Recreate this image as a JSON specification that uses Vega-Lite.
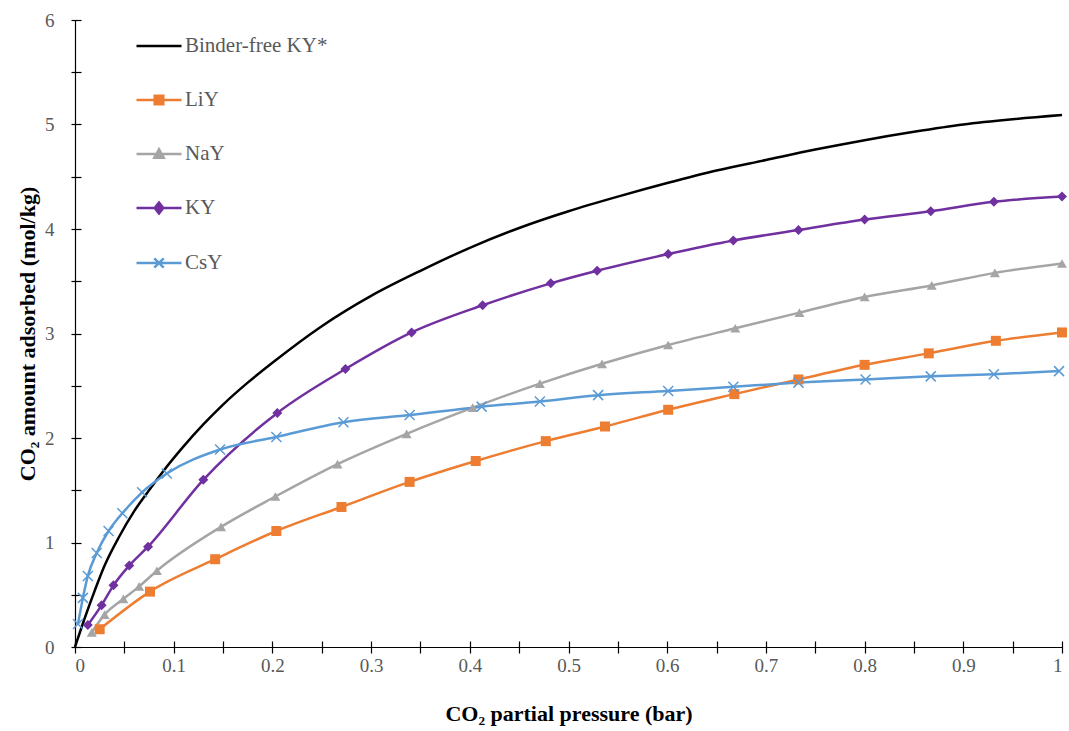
{
  "$schema": "https://vega.github.io/schema/vega-lite/v6.json",
  "width": 987,
  "height": 627,
  "autosize": "none",
  "padding": {"left": 75, "top": 20, "right": 7, "bottom": 84},
  "background": "white",
  "config": {"view": {"stroke": null}, "font": "Liberation Serif"},
  "data": {"values": [
    {"series": "Binder-free KY*", "p": 0, "q": 0},
    {"series": "Binder-free KY*", "p": 0.01, "q": 0.28},
    {"series": "Binder-free KY*", "p": 0.02, "q": 0.54},
    {"series": "Binder-free KY*", "p": 0.03, "q": 0.78},
    {"series": "Binder-free KY*", "p": 0.045, "q": 1.06},
    {"series": "Binder-free KY*", "p": 0.06, "q": 1.3},
    {"series": "Binder-free KY*", "p": 0.075, "q": 1.5},
    {"series": "Binder-free KY*", "p": 0.09, "q": 1.69},
    {"series": "Binder-free KY*", "p": 0.11, "q": 1.92},
    {"series": "Binder-free KY*", "p": 0.13, "q": 2.13},
    {"series": "Binder-free KY*", "p": 0.15, "q": 2.32},
    {"series": "Binder-free KY*", "p": 0.175, "q": 2.53},
    {"series": "Binder-free KY*", "p": 0.2, "q": 2.72},
    {"series": "Binder-free KY*", "p": 0.25, "q": 3.07},
    {"series": "Binder-free KY*", "p": 0.3, "q": 3.36},
    {"series": "Binder-free KY*", "p": 0.35, "q": 3.6},
    {"series": "Binder-free KY*", "p": 0.4, "q": 3.82},
    {"series": "Binder-free KY*", "p": 0.45, "q": 4.01},
    {"series": "Binder-free KY*", "p": 0.5, "q": 4.17},
    {"series": "Binder-free KY*", "p": 0.55, "q": 4.31},
    {"series": "Binder-free KY*", "p": 0.6, "q": 4.44},
    {"series": "Binder-free KY*", "p": 0.65, "q": 4.56},
    {"series": "Binder-free KY*", "p": 0.7, "q": 4.66},
    {"series": "Binder-free KY*", "p": 0.75, "q": 4.76},
    {"series": "Binder-free KY*", "p": 0.8, "q": 4.85},
    {"series": "Binder-free KY*", "p": 0.85, "q": 4.93},
    {"series": "Binder-free KY*", "p": 0.9, "q": 5.0},
    {"series": "Binder-free KY*", "p": 0.95, "q": 5.05},
    {"series": "Binder-free KY*", "p": 1.0, "q": 5.09},

    {"series": "LiY", "p": 0.025, "q": 0.17},
    {"series": "LiY", "p": 0.076, "q": 0.53},
    {"series": "LiY", "p": 0.142, "q": 0.84},
    {"series": "LiY", "p": 0.204, "q": 1.11},
    {"series": "LiY", "p": 0.27, "q": 1.34},
    {"series": "LiY", "p": 0.339, "q": 1.58},
    {"series": "LiY", "p": 0.406, "q": 1.78},
    {"series": "LiY", "p": 0.477, "q": 1.97},
    {"series": "LiY", "p": 0.537, "q": 2.11},
    {"series": "LiY", "p": 0.601, "q": 2.27},
    {"series": "LiY", "p": 0.668, "q": 2.42},
    {"series": "LiY", "p": 0.733, "q": 2.56},
    {"series": "LiY", "p": 0.8, "q": 2.7},
    {"series": "LiY", "p": 0.865, "q": 2.81},
    {"series": "LiY", "p": 0.933, "q": 2.93},
    {"series": "LiY", "p": 1.0, "q": 3.01},

    {"series": "NaY", "p": 0.017, "q": 0.14},
    {"series": "NaY", "p": 0.03, "q": 0.31},
    {"series": "NaY", "p": 0.049, "q": 0.46},
    {"series": "NaY", "p": 0.065, "q": 0.58},
    {"series": "NaY", "p": 0.083, "q": 0.73},
    {"series": "NaY", "p": 0.148, "q": 1.15},
    {"series": "NaY", "p": 0.203, "q": 1.44},
    {"series": "NaY", "p": 0.266, "q": 1.75},
    {"series": "NaY", "p": 0.336, "q": 2.04},
    {"series": "NaY", "p": 0.403, "q": 2.29},
    {"series": "NaY", "p": 0.471, "q": 2.52},
    {"series": "NaY", "p": 0.534, "q": 2.71},
    {"series": "NaY", "p": 0.601, "q": 2.89},
    {"series": "NaY", "p": 0.669, "q": 3.05},
    {"series": "NaY", "p": 0.734, "q": 3.2},
    {"series": "NaY", "p": 0.8, "q": 3.35},
    {"series": "NaY", "p": 0.868, "q": 3.46},
    {"series": "NaY", "p": 0.932, "q": 3.58},
    {"series": "NaY", "p": 1.0, "q": 3.67},

    {"series": "KY", "p": 0.013, "q": 0.21},
    {"series": "KY", "p": 0.027, "q": 0.4},
    {"series": "KY", "p": 0.039, "q": 0.59},
    {"series": "KY", "p": 0.055, "q": 0.78},
    {"series": "KY", "p": 0.074, "q": 0.96},
    {"series": "KY", "p": 0.13, "q": 1.6},
    {"series": "KY", "p": 0.205, "q": 2.24},
    {"series": "KY", "p": 0.274, "q": 2.66},
    {"series": "KY", "p": 0.341, "q": 3.01},
    {"series": "KY", "p": 0.413, "q": 3.27},
    {"series": "KY", "p": 0.482, "q": 3.48},
    {"series": "KY", "p": 0.529, "q": 3.6},
    {"series": "KY", "p": 0.601, "q": 3.76},
    {"series": "KY", "p": 0.667, "q": 3.89},
    {"series": "KY", "p": 0.733, "q": 3.99},
    {"series": "KY", "p": 0.8, "q": 4.09},
    {"series": "KY", "p": 0.867, "q": 4.17},
    {"series": "KY", "p": 0.931, "q": 4.26},
    {"series": "KY", "p": 1.0, "q": 4.31},

    {"series": "CsY", "p": 0.003, "q": 0.22},
    {"series": "CsY", "p": 0.008, "q": 0.47},
    {"series": "CsY", "p": 0.013, "q": 0.68},
    {"series": "CsY", "p": 0.022, "q": 0.9},
    {"series": "CsY", "p": 0.034, "q": 1.11},
    {"series": "CsY", "p": 0.048, "q": 1.28},
    {"series": "CsY", "p": 0.068, "q": 1.48},
    {"series": "CsY", "p": 0.093, "q": 1.66},
    {"series": "CsY", "p": 0.147, "q": 1.89},
    {"series": "CsY", "p": 0.204, "q": 2.01},
    {"series": "CsY", "p": 0.272, "q": 2.15},
    {"series": "CsY", "p": 0.339, "q": 2.22},
    {"series": "CsY", "p": 0.412, "q": 2.3},
    {"series": "CsY", "p": 0.471, "q": 2.35},
    {"series": "CsY", "p": 0.53, "q": 2.41},
    {"series": "CsY", "p": 0.601, "q": 2.45},
    {"series": "CsY", "p": 0.667, "q": 2.49},
    {"series": "CsY", "p": 0.733, "q": 2.53},
    {"series": "CsY", "p": 0.801, "q": 2.56},
    {"series": "CsY", "p": 0.867, "q": 2.59},
    {"series": "CsY", "p": 0.931, "q": 2.61},
    {"series": "CsY", "p": 0.997, "q": 2.64}
  ]},
  "layer": [
    {
      "transform": [{"filter": "datum.series === 'Binder-free KY*'"}],
      "mark": {"type": "line", "strokeWidth": 2.5, "interpolate": "monotone"},
      "encoding": {
        "x": {"field": "p", "type": "quantitative",
          "scale": {"domain": [0, 1], "nice": false, "zero": false},
          "axis": {"orient": "bottom", "title": "CO₂ partial pressure (bar)",
            "values": [0, 0.1, 0.2, 0.3, 0.4, 0.5, 0.6, 0.7, 0.8, 0.9, 1],
            "format": "~g", "ticks": false, "grid": false,
            "domainColor": "#000000", "domainWidth": 1.2,
            "labelFont": "Liberation Serif", "labelFontSize": 19, "labelColor": "#595959", "labelPadding": 9,
            "titleFont": "Liberation Serif", "titleFontSize": 22, "titleFontWeight": "bold", "titleColor": "#000000", "titlePadding": 28}},
        "y": {"field": "q", "type": "quantitative",
          "scale": {"domain": [0, 6], "nice": false},
          "axis": {"orient": "left", "title": "CO₂ amount adsorbed  (mol/kg)",
            "values": [0, 1, 2, 3, 4, 5, 6],
            "format": "~g", "ticks": false, "grid": false,
            "domainColor": "#000000", "domainWidth": 1.2,
            "labelFont": "Liberation Serif", "labelFontSize": 19, "labelColor": "#595959", "labelPadding": 21,
            "titleFont": "Liberation Serif", "titleFontSize": 22, "titleFontWeight": "bold", "titleColor": "#000000", "titlePadding": 5}},
        "color": {"field": "series", "type": "nominal",
          "scale": {"domain": ["Binder-free KY*", "LiY", "NaY", "KY", "CsY"],
                    "range": ["#000000", "#ED7D31", "#A5A5A5", "#7030A0", "#5B9BD5"]},
          "legend": {"orient": "none", "legendX": 60, "legendY": 2, "title": null,
            "symbolSize": 2025, "symbolStrokeWidth": 2.5, "rowPadding": 20,
            "labelFont": "Liberation Serif", "labelFontSize": 21, "labelColor": "#595959", "labelOffset": 2,
            "encode": {"symbols": {"update": {
              "shape": {"signal": "datum.value === 'LiY' ? 'M-1,0L1,0M-0.19,-0.19L0.19,-0.19L0.19,0.19L-0.19,0.19Z' : datum.value === 'NaY' ? 'M-1,0L1,0M-0.21,0.17L0,-0.21L0.21,0.17Z' : datum.value === 'KY' ? 'M-1,0L1,0M0,-0.24L0.19,0L0,0.24L-0.19,0Z' : datum.value === 'CsY' ? 'M-1,0L1,0M-0.21,-0.21L0.21,0.21M-0.21,0.21L0.21,-0.21' : 'M-1,0L1,0'"},
              "fill": {"signal": "datum.value === 'CsY' || datum.value === 'Binder-free KY*' ? 'transparent' : scale('color', datum.value)"},
              "stroke": {"signal": "scale('color', datum.value)"},
              "strokeWidth": {"value": 2.5},
              "opacity": {"value": 1}
            }}}}
        }
      }
    },
    {
      "transform": [{"filter": "datum.series !== 'Binder-free KY*'"}],
      "mark": {"type": "line", "strokeWidth": 2.5, "interpolate": "monotone"},
      "encoding": {
        "x": {"field": "p", "type": "quantitative",
          "axis": {"orient": "bottom", "title": null, "labels": false, "domain": false, "grid": false,
            "values": [0, 0.05, 0.1, 0.15, 0.2, 0.25, 0.3, 0.35, 0.4, 0.45, 0.5, 0.55, 0.6, 0.65, 0.7, 0.75, 0.8, 0.85, 0.9, 0.95, 1],
            "ticks": true, "tickSize": 12, "offset": -6, "tickColor": "#000000", "tickWidth": 1.2}},
        "y": {"field": "q", "type": "quantitative",
          "axis": {"orient": "left", "title": null, "labels": false, "domain": false, "grid": false,
            "values": [0, 0.5, 1, 1.5, 2, 2.5, 3, 3.5, 4, 4.5, 5, 5.5, 6],
            "ticks": true, "tickSize": 10, "offset": -6, "tickColor": "#000000", "tickWidth": 1.2}},
        "color": {"field": "series", "type": "nominal"}
      }
    },
    {
      "transform": [{"filter": "datum.series === 'LiY' || datum.series === 'NaY' || datum.series === 'KY'"}],
      "mark": {"type": "point", "filled": true, "opacity": 1, "size": 100},
      "encoding": {
        "x": {"field": "p", "type": "quantitative", "axis": null},
        "y": {"field": "q", "type": "quantitative", "axis": null},
        "color": {"field": "series", "type": "nominal"},
        "shape": {"field": "series", "type": "nominal",
          "scale": {"domain": ["LiY", "NaY", "KY"], "range": ["square", "triangle-up", "diamond"]},
          "legend": null}
      }
    },
    {
      "transform": [{"filter": "datum.series === 'CsY'"}],
      "mark": {"type": "point", "filled": false, "opacity": 1, "size": 100, "strokeWidth": 1.5,
               "shape": "M-1,-1L1,1M-1,1L1,-1"},
      "encoding": {
        "x": {"field": "p", "type": "quantitative", "axis": null},
        "y": {"field": "q", "type": "quantitative", "axis": null},
        "color": {"field": "series", "type": "nominal"}
      }
    }
  ],
  "resolve": {"axis": {"x": "independent", "y": "independent"}}
}
